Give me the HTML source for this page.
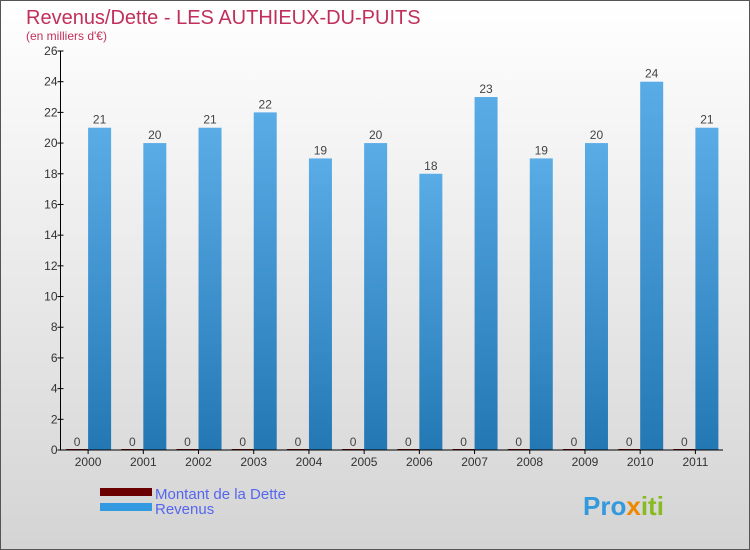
<!DOCTYPE html>
<html><head><meta charset="utf-8"><style>
body{margin:0}
#c{width:750px;height:550px;position:relative;overflow:hidden;font-family:"Liberation Sans",sans-serif}
</style></head><body>
<div id="c">
<svg width="750" height="550" id="svg">
<defs><linearGradient id="bg" x1="0" y1="0" x2="0" y2="1"><stop offset="0" stop-color="#ffffff"/><stop offset="1" stop-color="#d4d4d4"/></linearGradient>
<linearGradient id="rb" x1="0" y1="0" x2="0" y2="1"><stop offset="0" stop-color="#5aace6"/><stop offset="1" stop-color="#2378b4"/></linearGradient></defs>
<rect x="0.5" y="0.5" width="749" height="549" fill="url(#bg)" stroke="#555"/>
<text x="26" y="24" font-size="20" fill="#c0305a">Revenus/Dette - LES AUTHIEUX-DU-PUITS</text>
<text x="26" y="40" font-size="12" fill="#c0305a">(en milliers d'€)</text>
<g id="g"></g>
<rect x="100" y="488" width="52" height="8" fill="#6b0000"/>
<rect x="100" y="503" width="52" height="8" fill="#3399e0"/>
<text x="155" y="499" font-size="15" fill="#5566ee">Montant de la Dette</text>
<text x="155" y="514" font-size="15" fill="#5566ee">Revenus</text>
<text x="583" y="515" font-size="26" font-weight="bold"><tspan fill="#3399dd">Pro</tspan><tspan fill="#ee8800">x</tspan><tspan fill="#88bb22">iti</tspan></text>
</svg></div>
<script>
const years=["2000","2001","2002","2003","2004","2005","2006","2007","2008","2009","2010","2011"];
const dette=[0,0,0,0,0,0,0,0,0,0,0,0];
const revenus=[21,20,21,22,19,20,18,23,19,20,24,21];
const ticks=[0,2,4,6,8,10,12,14,16,18,20,22,24,26];
const ns="http://www.w3.org/2000/svg";
const g=document.getElementById('g');
const x0=60.5,x1=723,y0=450,yTop=51,ymax=26;
const gw=(x1-x0)/years.length;
function y(v){return y0-(y0-yTop)*v/ymax;}
function xc(i){return x0+gw*(i+0.5);}
function mk(t,a,txt){const e=document.createElementNS(ns,t);for(const k in a)e.setAttribute(k,a[k]);if(txt!==undefined)e.textContent=txt;g.appendChild(e);return e;}
years.forEach((yr,i)=>{
 const c=xc(i);
 let e=mk('rect',{x:c-22,y:y(dette[i])-1,width:22,height:y0-y(dette[i])+1,fill:'#6b0000'});
 
 
 e=mk('text',{x:c-11,y:y(dette[i])-4,'font-size':12,fill:'#444','text-anchor':'middle'},String(dette[i]));
 
 
 e=mk('rect',{x:c,y:y(revenus[i]),width:23,height:y0-y(revenus[i]),fill:'url(#rb)'});
 
 
 e=mk('text',{x:c+11.5,y:y(revenus[i])-4,'font-size':12,fill:'#444','text-anchor':'middle'},String(revenus[i]));
 
 
 e=mk('line',{x1:c,x2:c,y1:y0,y2:y0+4,stroke:'#000'});
 
 
 e=mk('text',{x:c,y:y0+16,'font-size':12,fill:'#333','text-anchor':'middle'},yr);
 
 
});
ticks.forEach(t=>{
 let e=mk('line',{x1:x0-3,x2:x0+3,y1:y(t),y2:y(t),stroke:'#000'});
 
 
 e=mk('text',{x:x0-3,y:y(t)+4,'font-size':12,fill:'#333','text-anchor':'end'},String(t));
 
 
});
let a=mk('line',{x1:x0,x2:x0,y1:yTop,y2:y0,stroke:'#000'});


a=mk('line',{x1:x0,x2:x1,y1:y0,y2:y0,stroke:'#000'});


</script>
</body></html>
